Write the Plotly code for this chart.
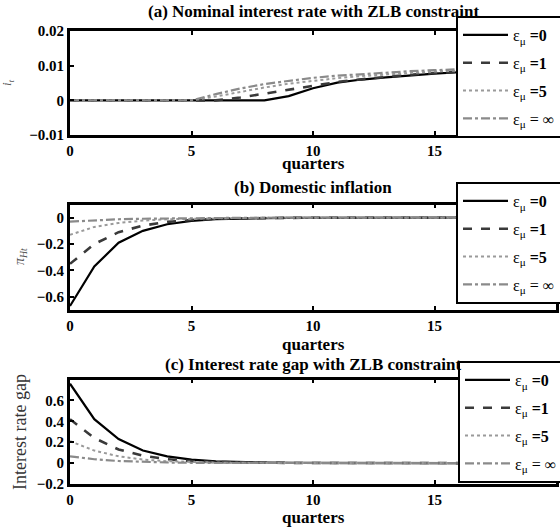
import plotly.graph_objects as go

quarters = list(range(0, 21))

# Panel (a): nominal interest rate i_t
a_eps0 = [0, 0, 0, 0, 0, 0, 0, 0, 0, 0.0012, 0.0035, 0.0051, 0.006, 0.0066, 0.0072, 0.0077, 0.0081, 0.0084, 0.0086, 0.0088, 0.0089]
a_eps1 = [0, 0, 0, 0, 0, 0, 0, 0.0008, 0.0019, 0.003, 0.0042, 0.0053, 0.0061, 0.0068, 0.0074, 0.0079, 0.0083, 0.0086, 0.0088, 0.009, 0.0091]
a_eps5 = [0, 0, 0, 0, 0, 0, 0.0011, 0.0025, 0.0037, 0.0048, 0.0057, 0.0064, 0.007, 0.0075, 0.0079, 0.0083, 0.0086, 0.0088, 0.009, 0.0091, 0.0092]
a_epsinf = [0, 0, 0, 0, 0, 0, 0.0018, 0.0034, 0.0047, 0.0057, 0.0065, 0.0071, 0.0076, 0.008, 0.0084, 0.0087, 0.009, 0.0092, 0.0093, 0.0094, 0.0095]

# Panel (b): domestic inflation pi_Ht
b_eps0 = [-0.67, -0.37, -0.19, -0.1, -0.05, -0.024, -0.012, -0.006, -0.003, -0.0015, -0.0007, -0.0003, 0, 0, 0, 0, 0, 0, 0, 0, 0]
b_eps1 = [-0.35, -0.2, -0.11, -0.06, -0.032, -0.017, -0.009, -0.005, -0.0025, -0.0012, -0.0006, -0.0003, 0, 0, 0, 0, 0, 0, 0, 0, 0]
b_eps5 = [-0.13, -0.07, -0.04, -0.022, -0.012, -0.007, -0.004, -0.002, -0.001, -0.0005, -0.0002, 0, 0, 0, 0, 0, 0, 0, 0, 0, 0]
b_epsinf = [-0.03, -0.02, -0.012, -0.008, -0.005, -0.003, -0.002, -0.001, -0.0005, -0.0002, 0, 0, 0, 0, 0, 0, 0, 0, 0, 0, 0]

# Panel (c): interest rate gap
c_eps0 = [0.76, 0.42, 0.23, 0.12, 0.065, 0.033, 0.017, 0.009, 0.005, 0.0025, 0.0012, 0.0006, 0, 0, 0, 0, 0, 0, 0, 0, 0]
c_eps1 = [0.42, 0.24, 0.13, 0.07, 0.037, 0.019, 0.01, 0.005, 0.0025, 0.0012, 0.0006, 0.0003, 0, 0, 0, 0, 0, 0, 0, 0, 0]
c_eps5 = [0.21, 0.12, 0.065, 0.034, 0.018, 0.009, 0.005, 0.0025, 0.0012, 0.0006, 0.0003, 0, 0, 0, 0, 0, 0, 0, 0, 0, 0]
c_epsinf = [0.065, 0.037, 0.02, 0.011, 0.006, 0.003, 0.0015, 0.0008, 0.0004, 0.0002, 0, 0, 0, 0, 0, 0, 0, 0, 0, 0, 0]

series_names = ["ε<sub>μ</sub> <b>=0</b>", "ε<sub>μ</sub> <b>=1</b>", "ε<sub>μ</sub> <b>=5</b>", "ε<sub>μ</sub> = ∞"]
panel_titles = ["(a) Nominal interest rate with ZLB constraint", "(b) Domestic inflation",
                "(c) Interest rate gap with ZLB constraint"]

x_ticks = [0, 5, 10, 15, 20]
a_ticks = [-0.01, 0, 0.01, 0.02]
a_ticklabels = ["−0.01", "0", "0.01", "0.02"]
b_ticks = [-0.6, -0.4, -0.2, 0]
b_ticklabels = ["−0.6", "−0.4", "−0.2", "0"]
c_ticks = [-0.2, 0, 0.2, 0.4, 0.6]
c_ticklabels = ["−0.2", "0", "0.2", "0.4", "0.6"]

W, H = 560, 527
SERIF = "Liberation Serif, Times New Roman, serif"

styles = [
    dict(color="#000000", width=2.2, dash="solid"),
    dict(color="#3a3a3a", width=2.6, dash="dash"),
    dict(color="#9a9a9a", width=2.0, dash="dot"),
    dict(color="#8a8a8a", width=2.2, dash="dashdot"),
]

panels = [
    dict(data=[a_eps0, a_eps1, a_eps5, a_epsinf], yr=[-0.01, 0.02], ticks=a_ticks, tl=a_ticklabels,
         top=31, bot=135, leg_top=16, leg_left=456, title_y=11, q_y=163,
         ytitle="<i>i<sub>t</sub></i>", ytx=8, yty=83, ytsize=13, ytcolor="#555"),
    dict(data=[b_eps0, b_eps1, b_eps5, b_epsinf], yr=[-0.7, 0.1], ticks=b_ticks, tl=b_ticklabels,
         top=204.5, bot=310, leg_top=182, leg_left=456, title_y=187, q_y=344,
         ytitle="<i>π<sub>Ht</sub></i>", ytx=20, yty=257, ytsize=14, ytcolor="#555"),
    dict(data=[c_eps0, c_eps1, c_eps5, c_epsinf], yr=[-0.2, 0.8], ticks=c_ticks, tl=c_ticklabels,
         top=379.5, bot=484, leg_top=361, leg_left=458, title_y=364, q_y=517,
         ytitle="Interest rate gap", ytx=20, yty=432, ytsize=18, ytcolor="#333"),
]

X0, X1 = 70, 556

fig = go.Figure()
layout = dict(
    width=W, height=H,
    margin=dict(l=0, r=0, t=0, b=0, autoexpand=False),
    paper_bgcolor="white", plot_bgcolor="white",
    font=dict(family=SERIF, color="black"),
    annotations=[],
)

for i, p in enumerate(panels):
    n = i + 1
    xa = "x" if n == 1 else f"x{n}"
    ya = "y" if n == 1 else f"y{n}"
    leg = "legend" if n == 1 else f"legend{n}"
    for k in range(4):
        fig.add_trace(go.Scatter(
            x=quarters, y=p["data"][k], mode="lines", name=series_names[k],
            line=styles[k], xaxis=xa, yaxis=ya, legend=leg, legendgroup=f"g{n}{k}",
            showlegend=True,
        ))
    xkey = "xaxis" if n == 1 else f"xaxis{n}"
    ykey = "yaxis" if n == 1 else f"yaxis{n}"
    layout[xkey] = dict(
        domain=[X0 / W, X1 / W], range=[0, 20], anchor=ya,
        tickvals=x_ticks, ticktext=[f"<b>{t}</b>" for t in x_ticks],
        ticks="inside", ticklen=4, tickwidth=2, tickcolor="black",
        showline=True, linewidth=2.8, linecolor="black", mirror="allticks",
        showgrid=False, zeroline=False,
        tickfont=dict(family=SERIF, size=15, color="black"),
    )
    layout[ykey] = dict(
        domain=[1 - p["bot"] / H, 1 - p["top"] / H], range=p["yr"], anchor=xa,
        tickvals=p["ticks"], ticktext=[f"<b>{t}</b>" for t in p["tl"]],
        ticks="inside", ticklen=4, tickwidth=2, tickcolor="black",
        showline=True, linewidth=2.8, linecolor="black", mirror="allticks",
        showgrid=False, zeroline=False,
        tickfont=dict(family=SERIF, size=15, color="black"),
    )
    layout[leg] = dict(
        x=p["leg_left"] / W, y=1 - p["leg_top"] / H, xanchor="left", yanchor="top",
        bgcolor="white", bordercolor="black", borderwidth=2,
        font=dict(family=SERIF, size=16, color="black"),
        tracegroupgap=4, itemwidth=45,
    )
    layout["annotations"] += [
        dict(text=f"<b>{panel_titles[i]}</b>", x=(X0 + X1) / 2 / W, y=1 - p["title_y"] / H,
             xref="paper", yref="paper", showarrow=False, xanchor="center", yanchor="middle",
             font=dict(family=SERIF, size=17, color="black")),
        dict(text="<b>quarters</b>", x=(X0 + X1) / 2 / W, y=1 - p["q_y"] / H,
             xref="paper", yref="paper", showarrow=False, xanchor="center", yanchor="middle",
             font=dict(family=SERIF, size=17, color="black")),
        dict(text=p["ytitle"], x=p["ytx"] / W, y=1 - p["yty"] / H, textangle=-90,
             xref="paper", yref="paper", showarrow=False, xanchor="center", yanchor="middle",
             font=dict(family=SERIF, size=p["ytsize"], color=p["ytcolor"])),
    ]

fig.update_layout(**layout)
fig.write_html("out.html", config={"displayModeBar": False},
               post_script="document.body.style.margin='0';document.body.style.overflow='hidden';")
